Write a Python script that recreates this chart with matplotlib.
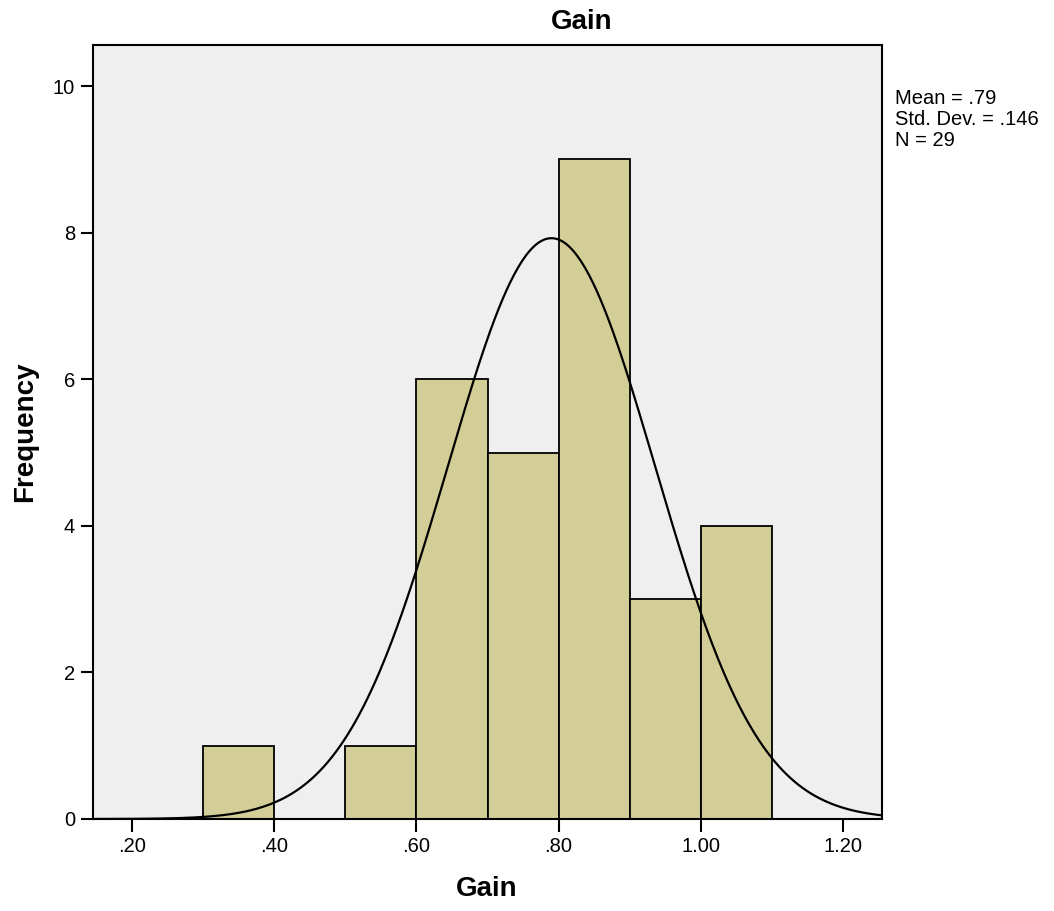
import numpy as np
import matplotlib
matplotlib.use("Agg")
import matplotlib.pyplot as plt

# histogram of Gain (bin left edges, width .10) and its counts
bin_lefts = [0.30, 0.50, 0.60, 0.70, 0.80, 0.90, 1.00]
counts = [1, 1, 6, 5, 9, 3, 4]
bin_width = 0.10

# summary stats printed next to the chart
mean_gain = 0.79
std_gain = 0.146
n_obs = 29

x_ticks = [0.20, 0.40, 0.60, 0.80, 1.00, 1.20]
x_tick_labels = [".20", ".40", ".60", ".80", "1.00", "1.20"]
y_ticks = [0, 2, 4, 6, 8, 10]

plt.rcParams["font.family"] = ["Liberation Sans", "DejaVu Sans"]

fig = plt.figure(figsize=(10.54, 9.11), dpi=100)
ax = fig.add_axes([93 / 1054, 92 / 911, 789 / 1054, 774 / 911])
ax.set_facecolor("#efefef")

ax.bar(bin_lefts, counts, width=bin_width, align="edge",
       color="#d3ce97", edgecolor="black", linewidth=1.3, zorder=2)

# normal curve scaled to the histogram (N * bin width * pdf)
xlim = (0.145, 1.255)
xs = np.linspace(xlim[0], xlim[1], 400)
ys = n_obs * bin_width / (std_gain * np.sqrt(2 * np.pi)) * np.exp(-0.5 * ((xs - mean_gain) / std_gain) ** 2)
ax.plot(xs, ys, color="black", linewidth=1.6, zorder=3)

ax.set_xlim(*xlim)
ax.set_ylim(0, 10.56)
ax.set_xticks(x_ticks)
ax.set_xticklabels(x_tick_labels)
ax.set_yticks(y_ticks)
ax.tick_params(axis="both", direction="out", length=9, width=1.5,
               labelsize=14.5, colors="black", pad=4)

for sp in ax.spines.values():
    sp.set_linewidth(1.5)
    sp.set_color("black")

fig.text(582 / 1054, 1 - 22 / 911, "Gain", ha="center", va="center",
         fontsize=20, fontweight="bold")
fig.text(487 / 1054, 1 - 889 / 911, "Gain", ha="center", va="center",
         fontsize=20, fontweight="bold")
fig.text(25 / 1054, 1 - 432 / 911, "Frequency", ha="center", va="center",
         rotation=90, fontsize=20, fontweight="bold")

stats = "Mean = .79\nStd. Dev. = .146\nN = 29"
fig.text(895 / 1054, 1 - 89 / 911, stats, ha="left", va="top",
         fontsize=14.5, linespacing=1.15)

fig.savefig("out.png", dpi=100)
